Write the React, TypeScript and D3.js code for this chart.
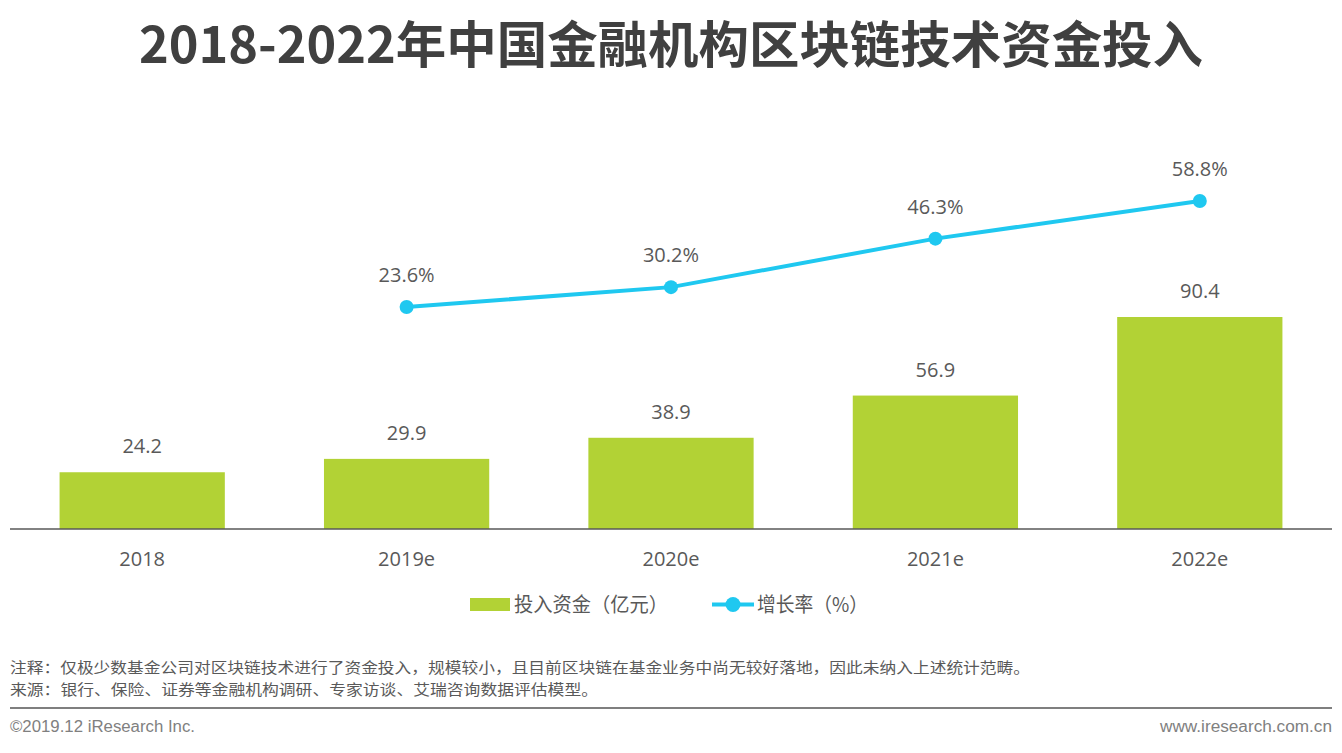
import React from "react";
import * as d3 from "d3";

const categories = ["2018", "2019e", "2020e", "2021e", "2022e"];
const investment = [24.2, 29.9, 38.9, 56.9, 90.4];
const growth: (number | null)[] = [null, 23.6, 30.2, 46.3, 58.8];
const title = "2018-2022年中国金融机构区块链技术资金投入";
const legendBar = "投入资金（亿元）";
const legendLine = "增长率（%）";
const note1 = "注释：仅极少数基金公司对区块链技术进行了资金投入，规模较小，且目前区块链在基金业务中尚无较好落地，因此未纳入上述统计范畴。";
const note2 = "来源：银行、保险、证券等金融机构调研、专家访谈、艾瑞咨询数据评估模型。";
const footerLeft = "©2019.12 iResearch Inc.";
const footerRight = "www.iresearch.com.cn";

const W = 1342;
const H = 753;
const BAR = "#B2D235";
const LINE = "#1FC8F0";
const TXT = "#595959";
const FONT = "'Open Sans', 'Noto Sans CJK SC', sans-serif";
const CJK = "'Noto Sans CJK SC', sans-serif";

export default function App() {
  const x = d3.scaleBand<string>().domain(categories).range([10, 1332]).paddingInner(0.375).paddingOuter(0.1875);
  const yBar = d3.scaleLinear().domain([0, 90.4]).range([529, 317]);
  const yLine = d3.scaleLinear().domain([23.6, 58.8]).range([307, 201]);
  const cx = (c: string) => (x(c) as number) + x.bandwidth() / 2;

  const pts = categories
    .map((c, i) => ({ c, v: growth[i] }))
    .filter((d) => d.v !== null) as { c: string; v: number }[];
  const line = d3
    .line<{ c: string; v: number }>()
    .x((d) => cx(d.c))
    .y((d) => yLine(d.v));

  return (
    <div style={{ position: "fixed", left: 0, top: 0, width: W, height: H, background: "#fff" }}>
      <svg width={W} height={H} style={{ display: "block" }}>
        <rect width={W} height={H} fill="#fff" />
        <text x={671} y={63} textAnchor="middle" fontFamily={CJK} fontWeight={700} fontSize={50} fill="#404040" textLength={1064} lengthAdjust="spacingAndGlyphs">
          {title}
        </text>

        {categories.map((c, i) => (
          <g key={c}>
            <rect x={x(c)} y={yBar(investment[i])} width={x.bandwidth()} height={yBar(0) - yBar(investment[i])} fill={BAR} />
            <text x={cx(c)} y={yBar(investment[i]) - 19} textAnchor="middle" fontFamily={FONT} fontSize={20} fill={TXT}>
              {investment[i].toFixed(1)}
            </text>
            <text x={cx(c)} y={566} textAnchor="middle" fontFamily={FONT} fontSize={20} fill={TXT}>
              {c}
            </text>
          </g>
        ))}
        <line x1={10} x2={1332} y1={529} y2={529} stroke="#595959" strokeWidth={1.5} />

        <path d={line(pts) || ""} fill="none" stroke={LINE} strokeWidth={4} />
        {pts.map((d) => (
          <g key={d.c}>
            <circle cx={cx(d.c)} cy={yLine(d.v)} r={7} fill={LINE} />
            <text x={cx(d.c)} y={yLine(d.v) - 25} textAnchor="middle" fontFamily={FONT} fontSize={20} fill={TXT}>
              {d.v.toFixed(1)}%
            </text>
          </g>
        ))}

        <rect x={470} y={598} width={40} height={13} fill={BAR} />
        <text x={514} y={612} fontFamily={CJK} fontSize={20} fill={TXT} textLength={154} lengthAdjust="spacingAndGlyphs">{legendBar}</text>
        <line x1={712} x2={754} y1={604.5} y2={604.5} stroke={LINE} strokeWidth={4} />
        <circle cx={733} cy={604.5} r={7.5} fill={LINE} />
        <text x={757} y={612} fontFamily={CJK} fontSize={20} fill={TXT} textLength={111} lengthAdjust="spacingAndGlyphs">{legendLine}</text>

        <text x={10} y={673} fontFamily={CJK} fontSize={15} fill={TXT} textLength={1020} lengthAdjust="spacingAndGlyphs">{note1}</text>
        <text x={10} y={695} fontFamily={CJK} fontSize={15} fill={TXT} textLength={588} lengthAdjust="spacingAndGlyphs">{note2}</text>
        <line x1={10} x2={1332} y1={708} y2={708} stroke="#7f7f7f" strokeWidth={2} />
        <text x={10} y={732} fontFamily="'Liberation Sans', Arial, sans-serif" fontSize={16} fill="#808080" textLength={185} lengthAdjust="spacingAndGlyphs">{footerLeft}</text>
        <text x={1332} y={732} textAnchor="end" fontFamily="'Liberation Sans', Arial, sans-serif" fontSize={16} fill="#808080" textLength={172} lengthAdjust="spacingAndGlyphs">{footerRight}</text>
      </svg>
    </div>
  );
}
